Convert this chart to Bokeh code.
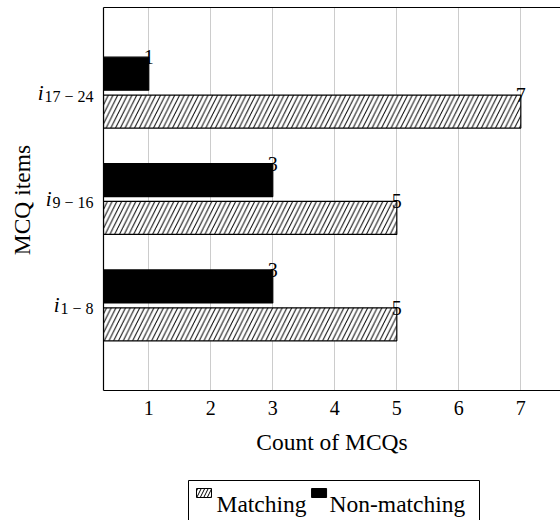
import math
from bokeh.plotting import figure
from bokeh.layouts import column, row
from bokeh.models import Range1d, FixedTicker, LinearAxis, ColumnDataSource
from bokeh.core.properties import value
from bokeh.embed import file_html
from bokeh.resources import INLINE

# ---- data ----
cat_base = ["i", "i", "i"]
cat_sub = ["1 \u2212 8", "9 \u2212 16", "17 \u2212 24"]
matching = [5, 5, 7]
non_matching = [3, 3, 1]
x_ticks = [1, 2, 3, 4, 5, 6, 7]
series_names = ["Matching", "Non-matching"]
x_label = "Count of MCQs"
y_label = "MCQ items"

FONT = "Liberation Serif"
LBL_FS = 23.5
positions = list(range(len(cat_sub)))
OFF = 0.178
H = 0.31
X0, X1 = 0.27, 7.64
yr = Range1d(-0.8, 2.8)

MATCH_STYLE = dict(fill_color="white", line_color="black", line_width=1.2,
                   hatch_pattern="/", hatch_color="black", hatch_scale=9.5,
                   hatch_weight=1.0)
NON_STYLE = dict(fill_color="black", line_color="black", line_width=1.2)

src_m = ColumnDataSource(dict(
    y=[p - OFF for p in positions], right=matching, left=[0] * len(matching),
    ty=[p - OFF + H / 2 for p in positions], txt=[str(v) for v in matching]))
src_n = ColumnDataSource(dict(
    y=[p + OFF for p in positions], right=non_matching, left=[0] * len(non_matching),
    ty=[p + OFF + H / 2 for p in positions], txt=[str(v) for v in non_matching]))

# ---------------- main plot ----------------
p = figure(width=460, height=465, x_range=Range1d(X0, X1), y_range=yr,
           output_backend="svg", toolbar_location=None,
           x_axis_location=None, y_axis_location=None,
           min_border_left=3, min_border_right=0, min_border_top=7,
           min_border_bottom=75, outline_line_color=None)

xaxis = LinearAxis(ticker=FixedTicker(ticks=x_ticks), axis_label=x_label,
                   major_tick_in=0, major_tick_out=0, minor_tick_line_color=None,
                   major_label_text_font=FONT, major_label_text_font_size="20px",
                   major_label_text_color="black",
                   major_label_standoff=10, axis_label_standoff=11,
                   axis_label_text_font=FONT,
                   axis_label_text_font_size=f"{LBL_FS}px",
                   axis_label_text_font_style="normal",
                   axis_label_text_color="black",
                   axis_line_color="black", axis_line_width=1.2)
p.add_layout(xaxis, "below")

for side in ("left", "above"):
    ax = LinearAxis(ticker=FixedTicker(ticks=[]), major_tick_in=0,
                    major_tick_out=0, minor_tick_line_color=None,
                    major_label_standoff=0, major_label_text_font_size="0px",
                    axis_line_color="black", axis_line_width=1.2)
    p.add_layout(ax, side)

p.xgrid.ticker = FixedTicker(ticks=x_ticks)
p.xgrid.grid_line_color = "#cccccc"
p.ygrid.grid_line_color = None

p.hbar(y="y", left="left", right="right", height=H, source=src_m, **MATCH_STYLE)
p.hbar(y="y", left="left", right="right", height=H, source=src_n, **NON_STYLE)

for s in (src_m, src_n):
    p.text(x="right", y="ty", text="txt", source=s, text_align="center",
           text_baseline="middle", text_font=value(FONT),
           text_font_size="20px", text_color="black")

# ---------------- category labels (left strip) ----------------
SUB_FS = 16
def sub_width(t):
    w = 0.0
    for ch in t:
        w += 0.25 if ch == " " else (0.564 if ch == "\u2212" else 0.5)
    return w * SUB_FS

lab = figure(width=100, height=465, x_range=Range1d(0, 100), y_range=yr,
             output_backend="svg", toolbar_location=None,
             x_axis_location=None, y_axis_location=None,
             min_border_left=0, min_border_right=0, min_border_top=7,
             min_border_bottom=75, outline_line_color=None)
lab.grid.visible = False

lab_src = ColumnDataSource(dict(
    x=[lab.x_range.end] * len(positions), y=positions,
    base=cat_base, sub=cat_sub,
    sub_off=[-7] * len(positions),
    base_off=[-7 - sub_width(s) - 1 for s in cat_sub]))
lab.text(x="x", y="y", text="sub", source=lab_src, x_offset="sub_off",
         y_offset=3.6, text_align="right", text_baseline="middle",
         text_font=value(FONT), text_font_size=f"{SUB_FS}px",
         text_color="black")
lab.text(x="x", y="y", text="base", source=lab_src, x_offset="base_off",
         y_offset=0, text_align="right", text_baseline="middle",
         text_font=value(FONT), text_font_style="italic",
         text_font_size="21px", text_color="black")
lab.text(x=[21], y=[(yr.start + yr.end) / 2 - 0.01], text=[y_label],
         angle=math.pi / 2, text_align="center", text_baseline="middle",
         text_font=value(FONT), text_font_size=f"{LBL_FS}px",
         text_color="black")

# ---------------- legend strip (pixel coordinates, y measured upward) ----------------
LEG_H = 55
leg = figure(width=560, height=LEG_H, x_range=Range1d(0, 560),
             y_range=Range1d(0, LEG_H), output_backend="svg",
             toolbar_location=None, x_axis_location=None, y_axis_location=None,
             min_border=0, outline_line_color=None)
leg.grid.visible = False

BOX_L, BOX_R, BOX_TOP = 188, 479, LEG_H - 15
ICON_W, ICON_TOP, ICON_BOT = 15, LEG_H - 23, LEG_H - 32
STANDOFF, GAP = 5, 5
TEXT_MID = LEG_H - 38

def text_w(t):
    widths = {"M": 0.889, "a": 0.444, "t": 0.278, "c": 0.444, "h": 0.5,
              "i": 0.278, "n": 0.5, "g": 0.5, "N": 0.722, "o": 0.5, "-": 0.333}
    return sum(widths.get(ch, 0.5) for ch in t) * LBL_FS

leg.quad(left=[BOX_L], right=[BOX_R], top=[BOX_TOP], bottom=[-10],
         fill_color="white", line_color="black", line_width=1)

icon_left = [BOX_L + 8]
icon_left.append(icon_left[0] + ICON_W + STANDOFF + text_w(series_names[0]) + GAP)
text_left = [x + ICON_W + STANDOFF - (0 if i == 0 else 2)
             for i, x in enumerate(icon_left)]

for i, style in enumerate((MATCH_STYLE, NON_STYLE)):
    st = dict(style)
    st["line_width"] = 1
    if "hatch_scale" in st:
        st["hatch_scale"] = 7
    leg.quad(left=[icon_left[i]], right=[icon_left[i] + ICON_W],
             top=[ICON_TOP], bottom=[ICON_BOT], **st)

leg.text(x=text_left, y=[TEXT_MID] * 2, text=series_names,
         text_align="left", text_baseline="middle",
         text_font=value(FONT), text_font_size=f"{LBL_FS}px",
         text_color="black")

layout = column(row(lab, p), leg)
open("out.html", "w").write(file_html(layout, INLINE))
